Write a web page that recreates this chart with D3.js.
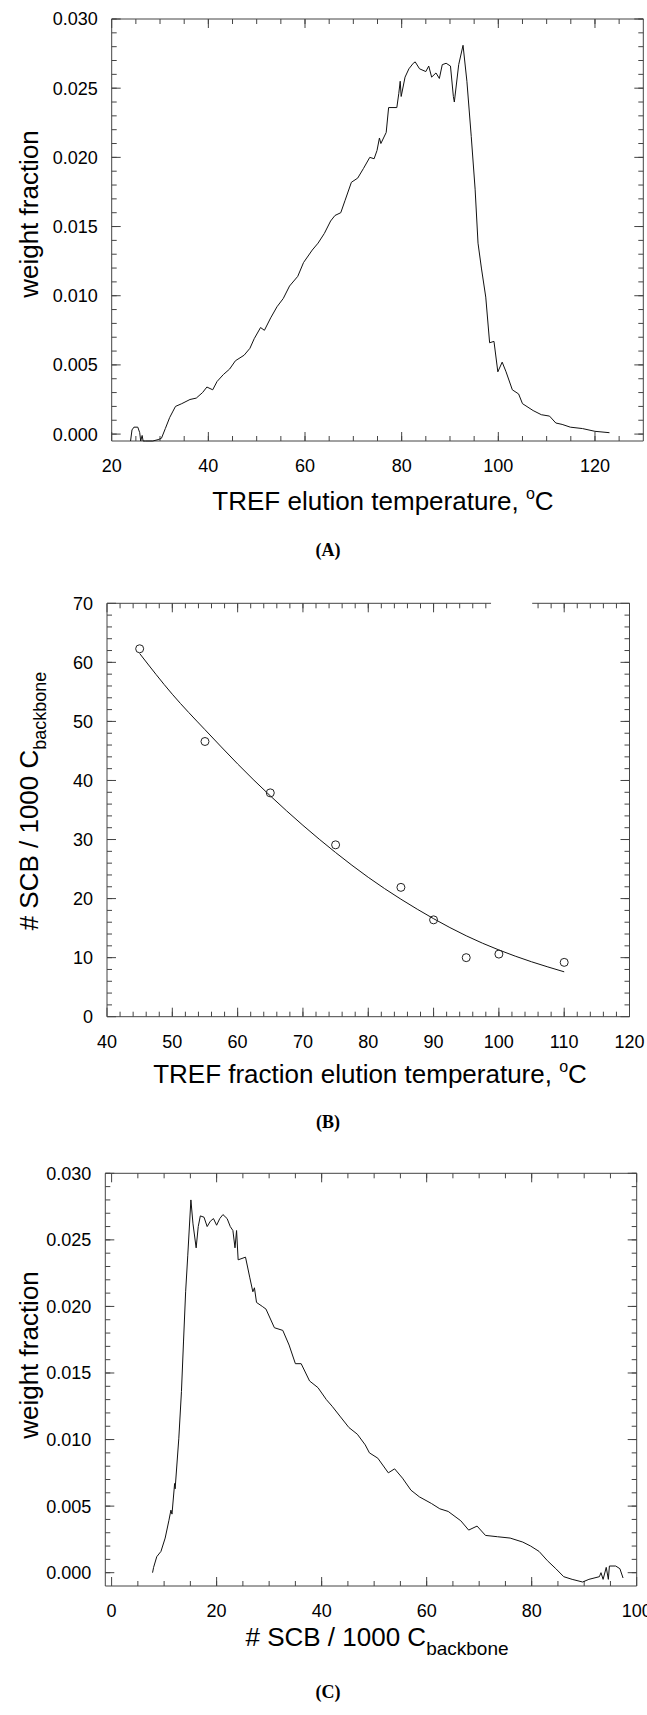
<!DOCTYPE html>
<html>
<head>
<meta charset="utf-8">
<script src="https://cdn.jsdelivr.net/npm/d3@7"></script>
<style>
  body { margin: 0; background: #fff; }
  svg text { font-family: "Liberation Sans", Arial, sans-serif; fill: #000; }
  .tag { font-family: "Liberation Serif", "Times New Roman", serif; font-weight: bold; }
</style>
</head>
<body>
<div id="fig"></div>
<script>
// ---- (A) TREF profile ----
const tempA = [23.9, 24.2, 24.6, 25.4, 25.8, 26.0, 26.3, 26.5, 27.0, 28.5, 29.6, 30.3, 31.1, 32.0, 32.6, 33.2, 34.5, 36.2, 37.5, 38.8,
  39.7, 40.9, 41.8, 43.1, 44.4, 45.6, 47.4, 48.6, 49.5, 50.8, 51.6, 52.9, 54.2, 55.5, 56.8, 58.5, 59.7, 61.5, 62.7, 64.0,
  65.3, 66.2, 67.4, 68.3, 69.6, 70.9, 72.1, 73.4, 74.3, 74.9, 75.4, 75.7, 76.8, 77.3, 79.0, 79.4, 79.7, 79.9, 80.7, 81.5,
  82.4, 82.8, 83.7, 85.0, 85.6, 86.2, 87.1, 87.8, 88.4, 89.2, 90.1, 90.7, 90.9, 91.8, 92.7, 93.5, 94.4, 95.2, 95.8, 96.5,
  97.4, 98.2, 99.1, 99.9, 100.8, 101.6, 102.9, 104.2, 105.0, 107.2, 108.9, 110.6, 111.9, 113.2, 114.9, 117.4, 120.0, 123.0];
const wfA = [-0.0005, 0.0003, 0.0005, 0.0005, 0.0001, -0.0005, -0.0001, -0.0005, -0.0005, -0.0005, -0.0004, -0.0003, 0.0004, 0.0012, 0.0016, 0.0020, 0.0022, 0.0025, 0.0026, 0.0030,
  0.0034, 0.0032, 0.0038, 0.0043, 0.0047, 0.0053, 0.0057, 0.0062, 0.0069, 0.0077, 0.0075, 0.0084, 0.0092, 0.0098, 0.0107, 0.0114, 0.0124, 0.0133, 0.0138, 0.0145,
  0.0154, 0.0158, 0.0160, 0.0169, 0.0182, 0.0185, 0.0192, 0.0200, 0.0199, 0.0205, 0.0214, 0.0210, 0.0218, 0.0236, 0.0236, 0.0246, 0.0255, 0.0244, 0.0258, 0.0264,
  0.0268, 0.0269, 0.0264, 0.0262, 0.0266, 0.0258, 0.0261, 0.0257, 0.0267, 0.0268, 0.0266, 0.0244, 0.0240, 0.0267, 0.0281, 0.0255, 0.0215, 0.0177, 0.0138, 0.0120,
  0.0099, 0.0066, 0.0067, 0.0045, 0.0052, 0.0045, 0.0032, 0.0029, 0.0022, 0.0017, 0.0014, 0.0013, 0.0008, 0.0007, 0.0005, 0.0004, 0.0002, 0.0001];

// ---- (B) SCB vs fraction temperature ----
const tempB = [45, 55, 65, 75, 85, 90, 95, 100, 110];
const scbB = [62.3, 46.6, 37.9, 29.1, 21.9, 16.4, 10.0, 10.6, 9.2];
const fitTemp = [45, 50, 55, 60, 65, 70, 75, 80, 85, 90, 95, 100, 105, 110];
const fitScb = [61.5, 54.6, 48.6, 42.8, 37.4, 32.4, 27.8, 23.6, 19.9, 16.6, 13.7, 11.3, 9.3, 7.6];

// ---- (C) SCB distribution ----
const scbC = [7.8, 8.0, 8.6, 9.4, 10.2, 10.9, 11.3, 11.5, 12.0, 12.1, 12.8, 13.3, 13.7, 14.1, 14.5, 15.1, 15.5, 16.1, 16.5, 16.9,
  17.6, 18.2, 18.8, 19.4, 20.0, 20.6, 21.2, 22.0, 22.6, 23.1, 23.5, 23.8, 24.1, 25.5, 26.3, 26.9, 27.2, 27.6, 28.7, 29.4,
  31.0, 32.6, 33.8, 35.0, 36.1, 37.7, 39.3, 40.9, 42.0, 43.6, 45.2, 46.8, 48.3, 49.1, 50.7, 52.7, 53.9, 55.4, 57.0, 58.6,
  60.9, 62.5, 64.1, 66.5, 68.0, 69.6, 71.2, 73.5, 75.9, 78.3, 79.8, 81.4, 83.0, 84.6, 86.1, 87.7, 89.7, 90.9, 92.9, 93.2,
  93.6, 94.2, 94.6, 94.8, 96.0, 96.8, 97.4];
const wfC = [0.0000, 0.0004, 0.0012, 0.0016, 0.0026, 0.0039, 0.0047, 0.0044, 0.0067, 0.0063, 0.0101, 0.0136, 0.0174, 0.0211, 0.0238, 0.0280, 0.0262, 0.0244, 0.0260, 0.0268,
  0.0267, 0.0260, 0.0264, 0.0266, 0.0261, 0.0266, 0.0269, 0.0266, 0.0260, 0.0257, 0.0244, 0.0257, 0.0235, 0.0237, 0.0222, 0.0211, 0.0214, 0.0203, 0.0200, 0.0198,
  0.0184, 0.0182, 0.0171, 0.0157, 0.0157, 0.0144, 0.0139, 0.0130, 0.0125, 0.0117, 0.0109, 0.0104, 0.0096, 0.0090, 0.0086, 0.0075, 0.0078, 0.0071, 0.0062, 0.0057,
  0.0052, 0.0048, 0.0046, 0.0039, 0.0032, 0.0035, 0.0028, 0.0027, 0.0026, 0.0023, 0.0020, 0.0016, 0.0009, 0.0003, -0.0003, -0.0005, -0.0007, -0.0005, -0.0003, 0.0000,
  -0.0005, 0.0004, -0.0005, 0.0005, 0.0005, 0.0003, -0.0004];

// tick labels
const xTicksA = [20, 40, 60, 80, 100, 120];
const yTicksWf = [0, 0.005, 0.010, 0.015, 0.020, 0.025, 0.030];
const xTicksB = [40, 50, 60, 70, 80, 90, 100, 110, 120];
const yTicksB = [0, 10, 20, 30, 40, 50, 60, 70];
const xTicksC = [0, 20, 40, 60, 80, 100];

const W = 647, H = 1715;
const svg = d3.select("#fig").append("svg")
  .attr("width", W).attr("height", H)
  .attr("viewBox", [0, 0, W, H]);

function panel(o) {
  const x = d3.scaleLinear().domain(o.xDom).range([o.left, o.right]);
  const y = d3.scaleLinear().domain(o.yDom).range([o.bottom, o.top]);
  const g = svg.append("g");
  const fr = g.append("g").attr("stroke", "#444").attr("stroke-width", 1).attr("fill", "none");

  // frame (top edge may have a break, as in the scanned figure)
  fr.append("line").attr("x1", o.left).attr("x2", o.left).attr("y1", o.top).attr("y2", o.bottom);
  fr.append("line").attr("x1", o.right).attr("x2", o.right).attr("y1", o.top).attr("y2", o.bottom);
  fr.append("line").attr("x1", o.left).attr("x2", o.right).attr("y1", o.bottom).attr("y2", o.bottom);
  const gap = o.topGap || null;
  if (gap) {
    fr.append("line").attr("x1", o.left).attr("x2", x(gap[0])).attr("y1", o.top).attr("y2", o.top);
    fr.append("line").attr("x1", x(gap[1])).attr("x2", o.right).attr("y1", o.top).attr("y2", o.top);
  } else {
    fr.append("line").attr("x1", o.left).attr("x2", o.right).attr("y1", o.top).attr("y2", o.top);
  }
  const inGap = v => gap && v > gap[0] && v < gap[1];

  // ticks on all four sides, pointing inward
  const tick = (vals, len, axis) => {
    vals.forEach(v => {
      if (axis === "x") {
        const px = x(v);
        fr.append("line").attr("x1", px).attr("x2", px).attr("y1", o.bottom).attr("y2", o.bottom - len);
        if (!inGap(v)) fr.append("line").attr("x1", px).attr("x2", px).attr("y1", o.top).attr("y2", o.top + len);
      } else {
        const py = y(v);
        fr.append("line").attr("y1", py).attr("y2", py).attr("x1", o.left).attr("x2", o.left + len);
        fr.append("line").attr("y1", py).attr("y2", py).attr("x1", o.right).attr("x2", o.right - len);
      }
    });
  };
  tick(o.xMinor, 5, "x");
  tick(o.xTicks, 9, "x");
  tick(o.yMinor, 5, "y");
  tick(o.yTicks, 9, "y");

  // tick labels
  g.selectAll(".xl").data(o.xTicks).join("text")
    .attr("x", d => x(d)).attr("y", o.bottom + 31)
    .attr("text-anchor", "middle").attr("font-size", 18)
    .text(d => d);
  g.selectAll(".yl").data(o.yTicks).join("text")
    .attr("x", o.left - 14).attr("y", d => y(d)).attr("dy", "0.36em")
    .attr("text-anchor", "end").attr("font-size", 18)
    .text(o.yFmt);

  return { x, y, g };
}

function degTitle(t, label) {
  t.append("tspan").text(label);
  t.append("tspan").attr("font-size", 16).attr("dy", -11).text("o");
  t.append("tspan").attr("dy", 11).text("C");
}

// ---------- (A) ----------
const pA = panel({
  left: 111.7, right: 643.3, top: 19, bottom: 441,
  xDom: [20, 130], yDom: [-0.0005, 0.030],
  xTicks: xTicksA, xMinor: d3.range(25, 130, 5),
  yTicks: yTicksWf, yMinor: d3.range(0, 0.0305, 0.001),
  yFmt: d3.format(".3f")
});
pA.g.append("path")
  .datum(d3.zip(tempA, wfA))
  .attr("fill", "none").attr("stroke", "#111").attr("stroke-width", 1)
  .attr("d", d3.line().x(d => pA.x(d[0])).y(d => pA.y(d[1])));
degTitle(pA.g.append("text").attr("x", 383).attr("y", 510).attr("text-anchor", "middle").attr("font-size", 26),
  "TREF elution temperature, ");
pA.g.append("text").attr("transform", "translate(38,214) rotate(-90)")
  .attr("text-anchor", "middle").attr("font-size", 26).text("weight fraction");
pA.g.append("text").attr("class", "tag").attr("x", 328).attr("y", 556)
  .attr("text-anchor", "middle").attr("font-size", 18).text("(A)");

// ---------- (B) ----------
const pB = panel({
  left: 107, right: 629.5, top: 603.3, bottom: 1016.7,
  xDom: [40, 120], yDom: [0, 70],
  xTicks: xTicksB, xMinor: d3.range(42, 120, 2),
  yTicks: yTicksB, yMinor: d3.range(2, 70, 2),
  yFmt: d => d, topGap: [98.8, 105.1]
});
pB.g.append("path")
  .datum(d3.zip(fitTemp, fitScb))
  .attr("fill", "none").attr("stroke", "#111").attr("stroke-width", 1)
  .attr("d", d3.line().curve(d3.curveNatural).x(d => pB.x(d[0])).y(d => pB.y(d[1])));
pB.g.selectAll("circle").data(d3.zip(tempB, scbB)).join("circle")
  .attr("cx", d => pB.x(d[0])).attr("cy", d => pB.y(d[1])).attr("r", 4)
  .attr("fill", "none").attr("stroke", "#222").attr("stroke-width", 1);
degTitle(pB.g.append("text").attr("x", 370).attr("y", 1083).attr("text-anchor", "middle").attr("font-size", 26),
  "TREF fraction elution temperature, ");
const yb = pB.g.append("text").attr("transform", "translate(38,801) rotate(-90)")
  .attr("text-anchor", "middle").attr("font-size", 26);
yb.append("tspan").text("# SCB / 1000 C");
yb.append("tspan").attr("font-size", 18).attr("dy", 8).text("backbone");
pB.g.append("text").attr("class", "tag").attr("x", 328).attr("y", 1128)
  .attr("text-anchor", "middle").attr("font-size", 18).text("(B)");

// ---------- (C) ----------
const pC = panel({
  left: 105.3, right: 636.7, top: 1173.3, bottom: 1586,
  xDom: [-1.2, 100], yDom: [-0.001, 0.030],
  xTicks: xTicksC, xMinor: d3.range(5, 100, 5),
  yTicks: yTicksWf, yMinor: d3.range(0, 0.0305, 0.001),
  yFmt: d3.format(".3f")
});
pC.g.append("path")
  .datum(d3.zip(scbC, wfC))
  .attr("fill", "none").attr("stroke", "#111").attr("stroke-width", 1)
  .attr("d", d3.line().x(d => pC.x(d[0])).y(d => pC.y(d[1])));
const xc = pC.g.append("text").attr("x", 377).attr("y", 1646)
  .attr("text-anchor", "middle").attr("font-size", 26);
xc.append("tspan").text("# SCB / 1000 C");
xc.append("tspan").attr("font-size", 19).attr("dy", 9).text("backbone");
pC.g.append("text").attr("transform", "translate(38,1355) rotate(-90)")
  .attr("text-anchor", "middle").attr("font-size", 26).text("weight fraction");
pC.g.append("text").attr("class", "tag").attr("x", 328).attr("y", 1698)
  .attr("text-anchor", "middle").attr("font-size", 18).text("(C)");
</script>
</body>
</html>
